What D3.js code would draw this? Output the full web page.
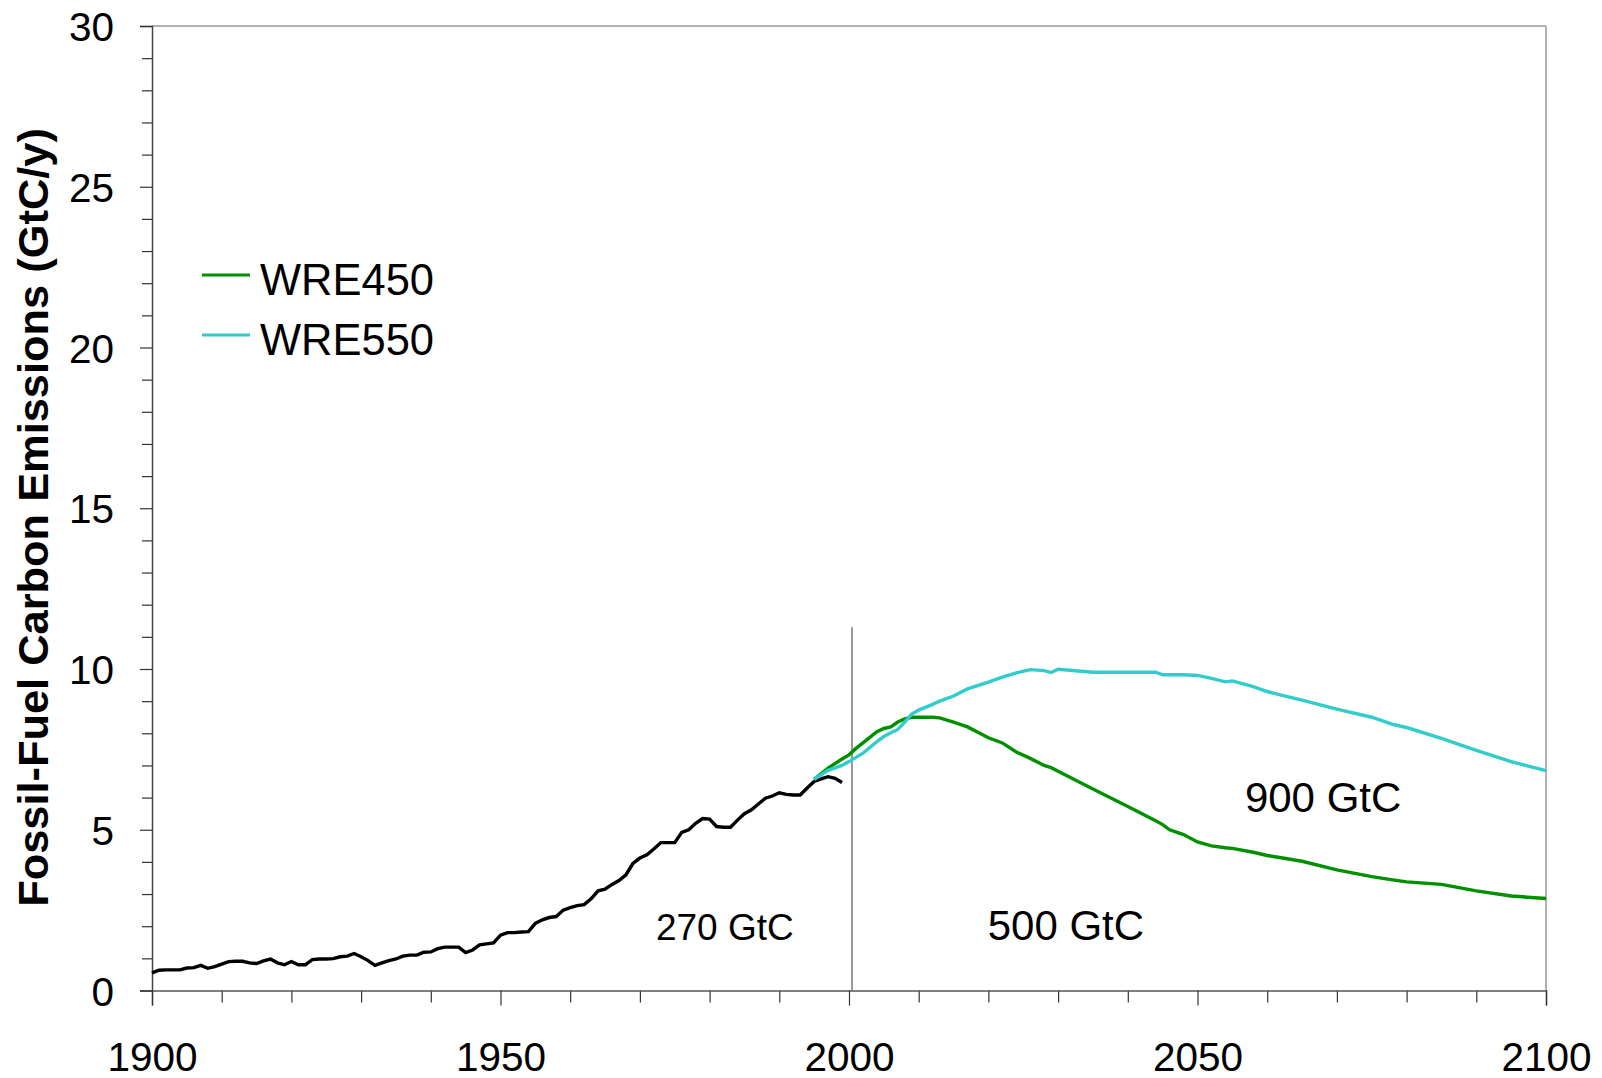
<!DOCTYPE html>
<html>
<head>
<meta charset="utf-8">
<script src="https://cdn.jsdelivr.net/npm/d3@7/dist/d3.min.js"></script>
<style>
  html, body { margin: 0; padding: 0; background: #fff; }
  svg { display: block; font-family: "Liberation Sans", Arial, sans-serif; }
</style>
</head>
<body>
<svg id="chart" width="1602" height="1078"></svg>
<script>
// ---- data ----
const histYears = d3.range(1900, 2000);
const histValues = [
  0.55, 0.63, 0.64, 0.64, 0.64, 0.70, 0.71, 0.78, 0.69, 0.74,
  0.82, 0.90, 0.91, 0.91, 0.86, 0.84, 0.92, 0.98, 0.86, 0.80,
  0.90, 0.80, 0.80, 0.96, 0.98, 0.98, 0.99, 1.05, 1.07, 1.15,
  1.05, 0.93, 0.78, 0.86, 0.93, 0.98, 1.07, 1.10, 1.10, 1.19,
  1.20, 1.30, 1.35, 1.35, 1.35, 1.18, 1.26, 1.42, 1.45, 1.48,
  1.72, 1.80, 1.80, 1.82, 1.83, 2.09, 2.20, 2.27, 2.30, 2.50,
  2.58, 2.64, 2.67, 2.85, 3.10, 3.15, 3.30, 3.42, 3.60, 3.95,
  4.12, 4.22, 4.40, 4.60, 4.60, 4.60, 4.92, 5.00, 5.20, 5.35,
  5.33, 5.10, 5.08, 5.08, 5.30, 5.50, 5.62, 5.80, 5.98, 6.05,
  6.15, 6.10, 6.08, 6.08, 6.30, 6.50, 6.58, 6.65, 6.60, 6.47
];
const wreYears = [1995, 1997, 1999, 2000, 2001, 2002, 2004, 2005, 2006, 2007, 2008, 2009, 2010, 2012, 2013,
  2015, 2017, 2020, 2022, 2024, 2026, 2028, 2029, 2030, 2035, 2040, 2044, 2045, 2046, 2048, 2050,
  2052, 2054, 2055, 2058, 2060, 2062, 2065, 2070, 2075, 2078, 2080, 2085, 2090, 2095, 2100];
const wre450 = [6.57, 6.92, 7.20, 7.33, 7.53, 7.70, 8.05, 8.15, 8.20, 8.35, 8.45, 8.50, 8.50, 8.50, 8.48,
  8.35, 8.20, 7.86, 7.70, 7.42, 7.22, 7.00, 6.93, 6.82, 6.27, 5.72, 5.28, 5.16, 5.00, 4.85, 4.62,
  4.50, 4.44, 4.42, 4.30, 4.20, 4.13, 4.02, 3.75, 3.54, 3.44, 3.38, 3.30, 3.10, 2.94, 2.86];
const wre550 = [6.57, 6.85, 7.00, 7.12, 7.25, 7.38, 7.74, 7.90, 8.02, 8.12, 8.35, 8.60, 8.72, 8.90, 9.00,
  9.16, 9.38, 9.59, 9.75, 9.88, 9.98, 9.95, 9.89, 9.99, 9.90, 9.90, 9.90, 9.82, 9.82, 9.82, 9.80,
  9.71, 9.60, 9.63, 9.45, 9.30, 9.19, 9.03, 8.75, 8.50, 8.28, 8.18, 7.84, 7.47, 7.12, 6.84];
const seriesNames = ["WRE450", "WRE550"];
const xTickLabels = [1900, 1950, 2000, 2050, 2100];
const yTickLabels = [0, 5, 10, 15, 20, 25, 30];
const annotationTexts = ["270 GtC", "500 GtC", "900 GtC"];
const annotationYears = [1972.3, 2019.9, 2056.8];
const annotationValues = [1.57, 1.57, 5.56];
const dividerYear = 2000;
const dividerTop = 11.3;

// ---- layout ----
const svg = d3.select("#chart");
const pLeft = 152, pRight = 1546, pTop = 26, pBottom = 990.5;
const x = d3.scaleLinear().domain([1900, 2100]).range([pLeft, pRight]);
const y = d3.scaleLinear().domain([0, 30]).range([pBottom, pTop]);
const colors = { hist: "#000000", WRE450: "#009000", WRE550: "#33CCCC" };
const annotationSizes = [37, 42, 42];

// frame (top/right)
svg.append("line").attr("x1", pLeft).attr("x2", pRight).attr("y1", pTop).attr("y2", pTop)
  .attr("stroke", "#999").attr("stroke-width", 1.5);
svg.append("line").attr("x1", pRight).attr("x2", pRight).attr("y1", pTop).attr("y2", pBottom)
  .attr("stroke", "#999").attr("stroke-width", 1.5);

// y axis
const yMinor = d3.range(0, 31).filter(v => v % 5 !== 0);
const yAxisMinor = d3.axisLeft(y).tickValues(yMinor).tickSize(10).tickFormat("");
svg.append("g").attr("transform", `translate(${pLeft},0)`).call(yAxisMinor)
  .call(g => g.select(".domain").remove())
  .selectAll("line").attr("stroke", "#333").attr("stroke-width", 1.2);
const yAxis = d3.axisLeft(y).tickValues(yTickLabels).tickSize(12).tickPadding(26);
const gy = svg.append("g").attr("transform", `translate(${pLeft},0)`).call(yAxis);
gy.select(".domain").attr("stroke", "#444").attr("stroke-width", 1.5);
gy.selectAll("line").attr("stroke", "#333").attr("stroke-width", 1.2);
gy.selectAll("text").attr("font-size", 40.5).attr("fill", "#000")
  .attr("font-family", "'Liberation Sans', Arial, sans-serif").attr("dy", "0.36em");

// x axis
const xMinor = d3.range(1900, 2101, 10).filter(v => v % 50 !== 0);
const xAxisMinor = d3.axisBottom(x).tickValues(xMinor).tickSize(12).tickFormat("");
svg.append("g").attr("transform", `translate(0,${pBottom})`).call(xAxisMinor)
  .call(g => g.select(".domain").remove())
  .selectAll("line").attr("stroke", "#333").attr("stroke-width", 1.2);
const xAxis = d3.axisBottom(x).tickValues(xTickLabels).tickSize(15).tickFormat(d3.format("d"));
const gx = svg.append("g").attr("transform", `translate(0,${pBottom})`).call(xAxis);
gx.select(".domain").attr("stroke", "#555").attr("stroke-width", 1.5);
gx.selectAll("line").attr("stroke", "#333").attr("stroke-width", 1.2);
gx.selectAll("text").attr("font-size", 40.5).attr("fill", "#000")
  .attr("font-family", "'Liberation Sans', Arial, sans-serif")
  .attr("y", 80).attr("dy", "0");

// divider line at 2000
svg.append("line").attr("x1", x(dividerYear) + 3).attr("x2", x(dividerYear) + 3)
  .attr("y1", y(dividerTop)).attr("y2", pBottom)
  .attr("stroke", "#777").attr("stroke-width", 1.5);

// lines
const line = d3.line().x(d => x(d[0])).y(d => y(d[1]));
svg.append("path").datum(histYears.map((yr, i) => [yr, histValues[i]]))
  .attr("d", line).attr("fill", "none").attr("stroke", colors.hist)
  .attr("stroke-width", 3.4);
svg.append("path").datum(wreYears.map((yr, i) => [yr, wre450[i]]))
  .attr("d", line).attr("fill", "none").attr("stroke", colors.WRE450)
  .attr("stroke-width", 3.4);
svg.append("path").datum(wreYears.map((yr, i) => [yr, wre550[i]]))
  .attr("d", line).attr("fill", "none").attr("stroke", colors.WRE550)
  .attr("stroke-width", 3.4);

// legend
const legend = svg.append("g");
seriesNames.forEach((name, i) => {
  const ly = 275 + i * 60;
  legend.append("line").attr("x1", 202).attr("x2", 250).attr("y1", ly).attr("y2", ly)
    .attr("stroke", colors[name]).attr("stroke-width", 3.2);
  legend.append("text").attr("x", 260).attr("y", ly + 20).attr("font-size", 43.5)
    .attr("fill", "#000").text(name);
});

// annotations
svg.append("g").selectAll("text").data(annotationTexts).join("text")
  .attr("x", (d, i) => x(annotationYears[i])).attr("y", (d, i) => y(annotationValues[i]))
  .attr("font-size", (d, i) => annotationSizes[i]).attr("fill", "#000").text(d => d);

// y title
svg.append("text").attr("transform", "translate(48,517.5) rotate(-90)")
  .attr("text-anchor", "middle").attr("font-size", 43.4).attr("font-weight", "bold")
  .attr("fill", "#000").text("Fossil-Fuel Carbon Emissions (GtC/y)");
</script>
</body>
</html>
